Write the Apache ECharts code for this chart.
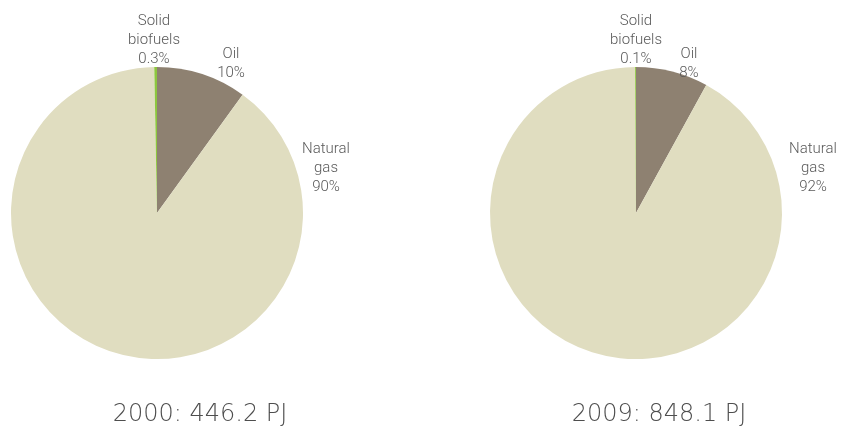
<!DOCTYPE html>
<html>
<head>
<meta charset="utf-8">
<script src="https://cdn.jsdelivr.net/npm/echarts@6/dist/echarts.min.js"></script>
<style>
  html, body { margin: 0; padding: 0; background: #ffffff; }
  #chart { width: 841px; height: 430px; }
</style>
</head>
<body>
<div id="chart"></div>
<script>
// Fuel shares (%) used to generate energy, two years
const fuels = ['Oil', 'Natural gas', 'Solid biofuels'];
const fuelLabels = ['Oil', 'Natural\ngas', 'Solid\nbiofuels'];
const share2000 = [10, 90, 0.3];
const share2009 = [8, 92, 0.1];
const shareText2000 = ['10%', '90%', '0.3%'];
const shareText2009 = ['8%', '92%', '0.1%'];
const titles = ['2000: 446.2 PJ', '2009: 848.1 PJ'];

const fuelColors = ['#8e8171', '#e0ddc0', '#8dc63f'];
const textColor = '#595959';
const fontFamily = 'Roboto, "DejaVu Sans", sans-serif';
const titleFont = '"DejaVu Sans", Roboto, sans-serif';

// label anchor offsets from each pie centre (px), per fuel
const labelOffsets = [
  [[74, -149], [169, -45], [-3, -173]],
  [[53, -149], [177, -45], [0, -173]]
];
const centers = [[157, 213], [636, 213]];

function pieSeries(idx, values, texts) {
  const c = centers[idx];
  return {
    type: 'pie',
    center: c,
    radius: 146,
    startAngle: 90,
    clockwise: true,
    avoidLabelOverlap: false,
    silent: true,
    data: fuels.map((name, i) => ({
      name: name,
      value: values[i],
      itemStyle: { color: fuelColors[i] },
      label: { formatter: fuelLabels[i] + '\n' + texts[i] }
    })),
    label: {
      show: true,
      position: 'outside',
      color: textColor,
      fontFamily: fontFamily,
      fontWeight: 300,
      fontSize: 15,
      lineHeight: 19,
      align: 'center'
    },
    labelLine: { show: false },
    labelLayout: function (p) {
      const o = labelOffsets[idx][p.dataIndex];
      return {
        x: c[0] + o[0],
        y: c[1] + o[1],
        align: 'center',
        verticalAlign: 'middle'
      };
    },
    itemStyle: { borderWidth: 0 }
  };
}

const titleStyle = {
  color: '#4e4e4e', fontFamily: titleFont, fontWeight: 200, fontSize: 24, lineHeight: 26
};

const chart = echarts.init(document.getElementById('chart'), null, { renderer: 'canvas' });
chart.setOption({
  backgroundColor: '#ffffff',
  animation: false,
  title: [
    { text: titles[0], left: 200, top: 402, padding: 0, textAlign: 'center', textStyle: titleStyle },
    { text: titles[1], left: 659, top: 402, padding: 0, textAlign: 'center', textStyle: titleStyle }
  ],
  series: [
    pieSeries(0, share2000, shareText2000),
    pieSeries(1, share2009, shareText2009)
  ]
});
</script>
</body>
</html>
